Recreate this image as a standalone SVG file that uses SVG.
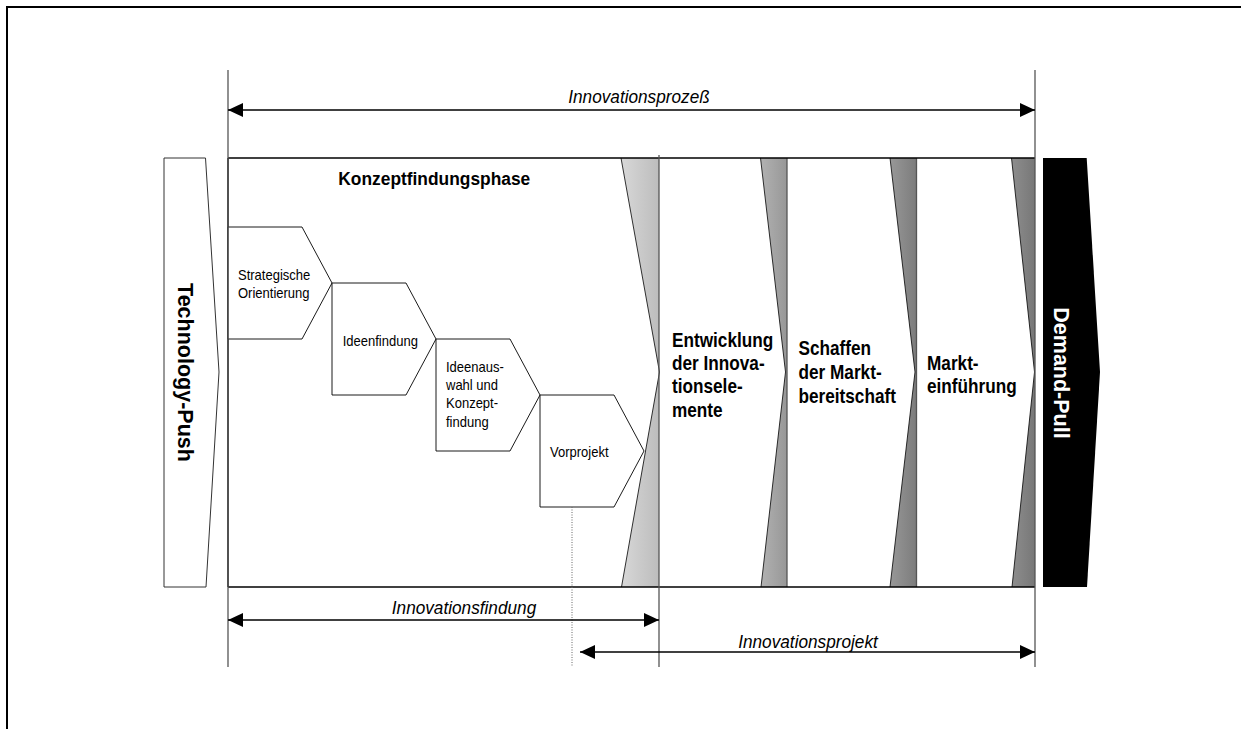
<svg xmlns="http://www.w3.org/2000/svg" width="1241" height="729" viewBox="0 0 1241 729">
  <style>
    text { font-family: "Liberation Sans", Arial, sans-serif; fill: #000; }
    .sm { font-size: 14px; }
    .bd { font-size: 20px; font-weight: bold; }
    .hd { font-size: 18.6px; font-weight: bold; }
    .it { font-size: 18.5px; font-style: italic; text-anchor: middle; }
    .rot { font-size: 21.5px; font-weight: bold; text-anchor: middle; }
    .frame { fill: none; stroke: #000; stroke-width: 1.4; }
    .guide { fill: none; stroke: #555; stroke-width: 1.3; }
    .step { fill: #fff; stroke: #000; stroke-width: 0.9; }
    .chev { fill: none; stroke: #000; stroke-width: 0.8; }
    .arrow { fill: none; stroke: #000; stroke-width: 1.3; marker-end: url(#head); marker-start: url(#head); }
  </style>
  <defs>
    <marker id="head" markerUnits="userSpaceOnUse" markerWidth="16" markerHeight="16" refX="15" refY="7" orient="auto-start-reverse">
      <path d="M0,0 L15,7 L0,14 Z" fill="#000"/>
    </marker>
    <linearGradient id="g1" x1="0" y1="0" x2="1" y2="0">
      <stop offset="0" stop-color="#d8d8d8"/>
      <stop offset="1" stop-color="#bcbcbc"/>
    </linearGradient>
    <linearGradient id="g2" x1="0" y1="0" x2="1" y2="0">
      <stop offset="0" stop-color="#b2b2b2"/>
      <stop offset="1" stop-color="#979797"/>
    </linearGradient>
    <linearGradient id="g3" x1="0" y1="0" x2="1" y2="0">
      <stop offset="0" stop-color="#989898"/>
      <stop offset="1" stop-color="#7c7c7c"/>
    </linearGradient>
    <linearGradient id="g4" x1="0" y1="0" x2="1" y2="0">
      <stop offset="0" stop-color="#8e8e8e"/>
      <stop offset="1" stop-color="#777"/>
    </linearGradient>
  </defs>

  <rect width="1241" height="729" fill="#fff"/>
  <!-- page frame, open to the right and bottom -->
  <path d="M7,729 V7 H1241" fill="none" stroke="#000" stroke-width="2"/>

  <!-- left driver -->
  <g id="technology-push">
    <polygon points="164,158 205.5,158 219,372 206,587 164,587" fill="#fff" stroke="#333" stroke-width="1"/>
    <text class="rot" transform="translate(178,372.5) rotate(90)">Technology-Push</text>
  </g>

  <!-- phase frame with wedge separators -->
  <g id="process-frame">
    <polygon points="621,158 659,158 659,587 621.5,587 659.5,372" fill="url(#g1)"/>
    <polygon points="760.5,158 787,158 787,587 761,587 785.5,372" fill="url(#g2)"/>
    <polygon points="890,158 916.5,158 916.5,587 890,587 915,372" fill="url(#g3)"/>
    <polygon points="1011.5,158 1035,158 1035,587 1012,587 1034.5,372" fill="url(#g4)"/>
    <polyline class="chev" points="621,158 659.5,372 621.5,587"/>
    <polyline class="chev" points="760.5,158 785.5,372 761,587"/>
    <polyline class="chev" points="890,158 915,372 890,587"/>
    <polyline class="chev" points="1011.5,158 1034.5,372 1012,587"/>
    <line class="guide" x1="787" y1="158" x2="787" y2="587"/>
    <line class="guide" x1="916.5" y1="158" x2="916.5" y2="587"/>
    <line class="frame" x1="228" y1="158" x2="1035" y2="158"/>
    <line class="frame" x1="228" y1="587" x2="1035" y2="587"/>
    <line class="frame" x1="228" y1="158" x2="228" y2="587"/>
  </g>

  <g id="konzeptfindungsphase">
    <text class="hd" transform="translate(338.3,185) scale(0.934,1)">Konzeptfindungsphase</text>
  </g>

  <g id="strategische-orientierung">
    <polygon class="step" points="228,227 302,227 332,283 302,339 228,339"/>
    <text class="sm" transform="translate(238,280) scale(0.93,1)"><tspan x="0" dy="0">Strategische</tspan><tspan x="0" dy="18">Orientierung</tspan></text>
  </g>
  <g id="ideenfindung">
    <polygon class="step" points="332,283 406,283 436,339 406,395 332,395"/>
    <text class="sm" transform="translate(342.7,346) scale(0.93,1)">Ideenfindung</text>
  </g>
  <g id="ideenauswahl">
    <polygon class="step" points="436,339 510,339 540,395 510,451 436,451"/>
    <text class="sm" transform="translate(446,372) scale(0.93,1)"><tspan x="0" dy="0">Ideenaus-</tspan><tspan x="0" dy="18.2">wahl und</tspan><tspan x="0" dy="18.2">Konzept-</tspan><tspan x="0" dy="18.2">findung</tspan></text>
  </g>
  <g id="vorprojekt">
    <polygon class="step" points="540,395 614,395 644,451 614,507 540,507"/>
    <text class="sm" transform="translate(550,457) scale(0.93,1)">Vorprojekt</text>
  </g>

  <g id="entwicklung">
    <text class="bd" transform="translate(672,347) scale(0.86,1)"><tspan x="0" dy="0">Entwicklung</tspan><tspan x="0" dy="23.2">der Innova-</tspan><tspan x="0" dy="23.2">tionsele-</tspan><tspan x="0" dy="23.2">mente</tspan></text>
  </g>
  <g id="marktbereitschaft">
    <text class="bd" transform="translate(798.5,355) scale(0.86,1)"><tspan x="0" dy="0">Schaffen</tspan><tspan x="0" dy="24">der Markt-</tspan><tspan x="0" dy="24">bereitschaft</tspan></text>
  </g>
  <g id="markteinfuehrung">
    <text class="bd" transform="translate(927,370) scale(0.86,1)"><tspan x="0" dy="0">Markt-</tspan><tspan x="0" dy="23.3">einführung</tspan></text>
  </g>

  <!-- right driver -->
  <g id="demand-pull">
    <polygon points="1043,158 1086.7,158 1100,372 1087,587 1043,587" fill="#000"/>
    <text class="rot" transform="translate(1054,373) rotate(90)" style="fill:#fff">Demand-Pull</text>
  </g>

  <!-- dimension lines and spans -->
  <g id="connectors">
    <line class="guide" x1="228" y1="70" x2="228" y2="667"/>
    <line class="guide" x1="1035" y1="70" x2="1035" y2="667"/>
    <line class="guide" x1="659" y1="155" x2="659" y2="667"/>
    <line x1="572" y1="507" x2="572" y2="667" stroke="#666" stroke-width="1" stroke-dasharray="1,1.5"/>
    <line class="arrow" x1="228" y1="110" x2="1035" y2="110"/>
    <line class="arrow" x1="228" y1="620" x2="659" y2="620"/>
    <line class="arrow" x1="580" y1="652" x2="1035" y2="652"/>
    <text class="it" transform="translate(639,102.5) scale(0.93,1)">Innovationsprozeß</text>
    <text class="it" transform="translate(464,613.5) scale(0.93,1)">Innovationsfindung</text>
    <text class="it" transform="translate(808,648) scale(0.93,1)">Innovationsprojekt</text>
  </g>
</svg>
